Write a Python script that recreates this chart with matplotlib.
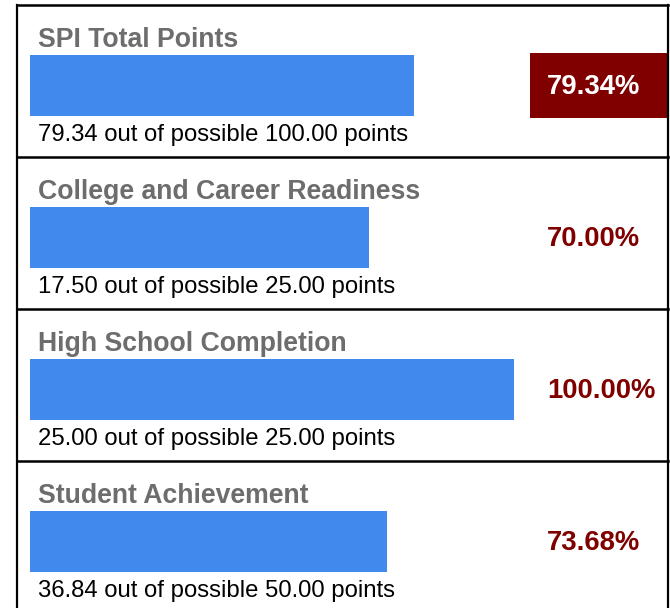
import matplotlib.pyplot as plt

plt.rcParams["font.family"] = ["Liberation Sans", "DejaVu Sans"]

# data
titles = ["SPI Total Points", "College and Career Readiness",
          "High School Completion", "Student Achievement"]
earned = [79.34, 17.50, 25.00, 36.84]
possible = [100.00, 25.00, 25.00, 50.00]

W, H = 670, 608
fig = plt.figure(figsize=(W / 100, H / 100), dpi=100)

# background axes in pixel coordinates for frames and text
bg = fig.add_axes([0, 0, 1, 1])
bg.set_xlim(0, W)
bg.set_ylim(H, 0)
bg.axis("off")

top0, ph = 4, 152
bar_left, bar_full = 30, 484
gray = "#6d6d6d"
dred = "#800000"
blue = "#4189ec"

# outer frame
bg.plot([16.5, 16.5], [top0 + 1, H], color="black", lw=1.6)
bg.plot([668, 668], [top0 + 1, H], color="black", lw=1.6)
for i in range(len(titles) + 1):
    y = top0 + ph * i
    if y < H:
        bg.plot([16.5, 668], [y + 1, y + 1], color="black", lw=1.8)

for i, (t, e, p) in enumerate(zip(titles, earned, possible)):
    top = top0 + ph * i
    pct = e / p * 100

    bg.text(38, top + 43, t, fontsize=19.2, fontweight="bold", color=gray,
            va="baseline", ha="left")
    bg.text(38, top + 137, f"{e:.2f} out of possible {p:.2f} points",
            fontsize=17.2, color="black", va="baseline", ha="left")

    if i == 0:
        bg.add_patch(plt.Rectangle((530, top + 49), 138, 65,
                                   facecolor=dred, edgecolor="none"))
        bg.text(547, top + 90, f"{pct:.2f}%", fontsize=19.8,
                fontweight="bold", color="white", va="baseline", ha="left")
    else:
        bg.text(547, top + 90, f"{pct:.2f}%", fontsize=19.8,
                fontweight="bold", color=dred, va="baseline", ha="left")

    # bar axes
    b_top, b_h = top + 51, 61
    ax = fig.add_axes([bar_left / W, 1 - (b_top + b_h) / H,
                       bar_full / W, b_h / H])
    ax.barh([0], [e], height=1.0, color=blue, align="edge")
    ax.set_xlim(0, p)
    ax.set_ylim(0, 1)
    ax.axis("off")

fig.savefig("out.png", dpi=100)
